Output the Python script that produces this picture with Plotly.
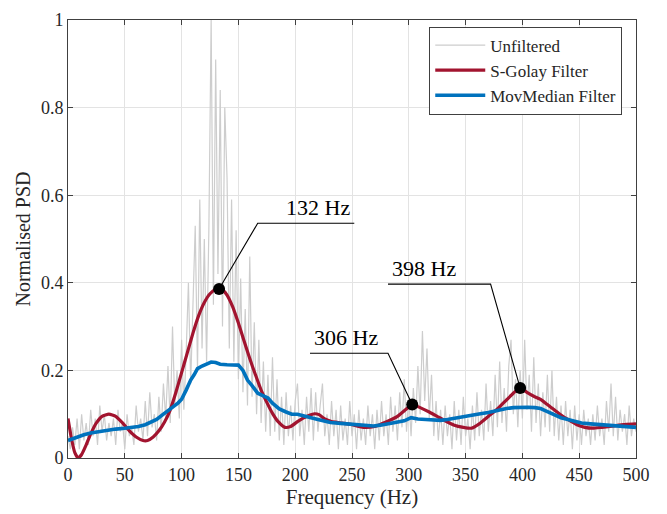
import plotly.graph_objects as go

# ---------------- data ----------------
freq_raw = list(range(0, 501, 2))
psd_raw = [
    0.05, 0.02, 0.07, 0.03, 0.09, 0.02, 0.10, 0.04, 0.08, 0.03,
    0.11, 0.05, 0.09, 0.03, 0.12, 0.06, 0.10, 0.04, 0.08, 0.05,
    0.09, 0.03, 0.11, 0.06, 0.08, 0.02, 0.10, 0.05, 0.07, 0.03,
    0.12, 0.06, 0.09, 0.04, 0.13, 0.05, 0.15, 0.07, 0.10, 0.04,
    0.14, 0.06, 0.17, 0.09, 0.21, 0.08, 0.30, 0.12, 0.20, 0.09,
    0.27, 0.11, 0.24, 0.40, 0.17, 0.35, 0.53, 0.20, 0.59, 0.25,
    0.50, 0.22, 0.52, 1.00, 0.35, 0.91, 0.42, 0.84, 0.30, 0.80,
    0.64, 0.25, 0.59, 0.22, 0.52, 0.18, 0.41, 0.15, 0.34, 0.12,
    0.46, 0.14, 0.31, 0.10, 0.27, 0.08, 0.22, 0.06, 0.19, 0.05,
    0.23, 0.06, 0.18, 0.04, 0.14, 0.03, 0.15, 0.05, 0.12, 0.04,
    0.13, 0.17, 0.05, 0.11, 0.03, 0.14, 0.06, 0.16, 0.04, 0.15,
    0.06, 0.12, 0.17, 0.05, 0.10, 0.03, 0.13, 0.05, 0.11, 0.02,
    0.12, 0.04, 0.09, 0.03, 0.13, 0.05, 0.10, 0.02, 0.11, 0.04,
    0.09, 0.03, 0.12, 0.05, 0.10, 0.02, 0.11, 0.04, 0.13, 0.05,
    0.10, 0.03, 0.14, 0.06, 0.12, 0.04, 0.15, 0.07, 0.18, 0.06,
    0.14, 0.05, 0.16, 0.08, 0.21, 0.10, 0.29, 0.13, 0.25, 0.09,
    0.19, 0.05, 0.13, 0.04, 0.11, 0.03, 0.12, 0.05, 0.10, 0.02,
    0.13, 0.04, 0.11, 0.03, 0.14, 0.05, 0.09, 0.02, 0.12, 0.04,
    0.15, 0.05, 0.11, 0.04, 0.17, 0.06, 0.13, 0.05, 0.19, 0.07,
    0.22, 0.08, 0.16, 0.06, 0.21, 0.27, 0.10, 0.18, 0.07, 0.20,
    0.09, 0.27, 0.11, 0.19, 0.06, 0.23, 0.08, 0.17, 0.05, 0.15,
    0.07, 0.19, 0.06, 0.20, 0.05, 0.14, 0.04, 0.12, 0.03, 0.13,
    0.05, 0.11, 0.02, 0.12, 0.04, 0.10, 0.03, 0.11, 0.05, 0.09,
    0.03, 0.10, 0.04, 0.12, 0.05, 0.09, 0.03, 0.13, 0.06, 0.17,
    0.05, 0.14, 0.04, 0.11, 0.06, 0.10, 0.03, 0.12, 0.05, 0.09,
    0.06,
]

freq_sg = [0, 3, 6, 9, 12, 16, 20, 25, 30, 36, 42, 48, 54, 60, 66, 70, 75, 80, 85, 90,
           95, 100, 105, 110, 115, 120, 125, 130, 133, 136, 140, 145, 150, 155, 160, 165,
           170, 175, 180, 185, 191, 196, 202, 207, 212, 217, 221, 226, 232, 240, 250, 260,
           270, 280, 290, 297, 303, 310, 318, 325, 332, 340, 348, 355, 362, 370, 378, 385,
           392, 398, 404, 410, 416, 422, 428, 434, 440, 448, 455, 462, 470, 477, 485, 492, 500]
psd_sg = [0.090, 0.045, 0.012, 0.000, 0.008, 0.030, 0.055, 0.080, 0.095, 0.100, 0.095,
          0.080, 0.062, 0.048, 0.040, 0.040, 0.048, 0.062, 0.082, 0.110, 0.150, 0.195,
          0.240, 0.285, 0.325, 0.355, 0.375, 0.385, 0.386, 0.384, 0.372, 0.345, 0.308,
          0.267, 0.227, 0.190, 0.155, 0.127, 0.102, 0.083, 0.070, 0.072, 0.083, 0.091,
          0.097, 0.101, 0.099, 0.089, 0.083, 0.080, 0.076, 0.070, 0.072, 0.082, 0.095,
          0.110, 0.122, 0.115, 0.105, 0.095, 0.085, 0.075, 0.070, 0.068, 0.078, 0.095,
          0.112, 0.130, 0.148, 0.160, 0.150, 0.141, 0.134, 0.122, 0.110, 0.098, 0.088,
          0.076, 0.070, 0.068, 0.070, 0.072, 0.075, 0.077, 0.078]

freq_mm = [0, 5, 10, 14, 20, 27, 34, 42, 50, 55, 62, 68, 73, 78, 84, 88, 93, 97, 100, 104,
           108, 111, 114, 118, 122, 126, 130, 134, 140, 145, 150, 154, 158, 162, 167, 172,
           176, 180, 186, 192, 197, 202, 208, 214, 220, 226, 231, 240, 250, 260, 269, 275,
           282, 290, 296, 302, 308, 315, 322, 328, 334, 342, 349, 356, 363, 370, 378, 386,
           392, 398, 405, 411, 416, 421, 427, 434, 440, 446, 452, 460, 468, 476, 484, 492, 500]
psd_mm = [0.040, 0.045, 0.050, 0.053, 0.057, 0.060, 0.064, 0.066, 0.068, 0.069, 0.072,
          0.076, 0.081, 0.088, 0.100, 0.107, 0.118, 0.126, 0.134, 0.155, 0.178, 0.190,
          0.204, 0.210, 0.214, 0.219, 0.218, 0.214, 0.213, 0.213, 0.212, 0.200, 0.178,
          0.165, 0.148, 0.142, 0.137, 0.125, 0.112, 0.105, 0.100, 0.100, 0.095, 0.092,
          0.088, 0.084, 0.081, 0.079, 0.077, 0.074, 0.073, 0.075, 0.078, 0.082, 0.085,
          0.092, 0.089, 0.088, 0.087, 0.086, 0.088, 0.092, 0.096, 0.098, 0.101, 0.104,
          0.109, 0.113, 0.115, 0.116, 0.116, 0.115, 0.113, 0.107, 0.100, 0.092, 0.088,
          0.084, 0.080, 0.078, 0.076, 0.074, 0.072, 0.071, 0.070]

peak_labels = ["132 Hz", "306 Hz", "398 Hz"]
peak_x = [133, 303, 398]
peak_y = [0.386, 0.122, 0.160]
elbow_x = [167, 281.7, 372]
elbow_y = [0.536, 0.239, 0.397]
end_x = [252, 213, 281.7]

x_ticks = [0, 50, 100, 150, 200, 250, 300, 350, 400, 450, 500]
y_ticks = [0, 0.2, 0.4, 0.6, 0.8, 1]
y_tick_text = ["0", "0.2", "0.4", "0.6", "0.8", "1"]

# ---------------- figure ----------------
FONT = "Liberation Serif"
fig = go.Figure()

fig.add_trace(go.Scatter(x=freq_raw, y=psd_raw, mode="lines", name="Unfiltered",
                         line=dict(color="#cdcdcd", width=1.2)))
fig.add_trace(go.Scatter(x=freq_sg, y=psd_sg, mode="lines", name="S-Golay Filter",
                         line=dict(color="#A2142F", width=3.2, shape="spline", smoothing=0.5)))
fig.add_trace(go.Scatter(x=freq_mm, y=psd_mm, mode="lines", name="MovMedian Filter",
                         line=dict(color="#0072BD", width=3.6)))

for i, lab in enumerate(peak_labels):
    fig.add_trace(go.Scatter(x=[peak_x[i], elbow_x[i], end_x[i]],
                             y=[peak_y[i], elbow_y[i], elbow_y[i]],
                             mode="lines", line=dict(color="black", width=1.1),
                             showlegend=False, hoverinfo="skip"))
    anchor = "right" if end_x[i] > elbow_x[i] else "left"
    fig.add_annotation(x=end_x[i], y=elbow_y[i], text=lab, showarrow=False,
                       xanchor=anchor, yanchor="bottom", yshift=1,
                       xshift=-2 if anchor == "right" else 2,
                       font=dict(family=FONT, size=22, color="black"))

fig.add_trace(go.Scatter(x=peak_x, y=peak_y, mode="markers",
                         marker=dict(color="black", size=12),
                         showlegend=False, hoverinfo="skip"))

axis_common = dict(
    showline=True, linecolor="#404040", linewidth=1, mirror="ticks",
    ticks="inside", ticklen=5, tickcolor="#404040",
    showgrid=True, gridcolor="#e3e3e3", gridwidth=1,
    zeroline=False,
    tickfont=dict(family=FONT, size=18, color="#262626"),
)

fig.update_xaxes(range=[0, 500], tickvals=x_ticks,
                 title=dict(text="Frequency (Hz)", standoff=5,
                            font=dict(family=FONT, size=21, color="#262626")),
                 **axis_common)
fig.update_yaxes(range=[0, 1], tickvals=y_ticks, ticktext=y_tick_text,
                 title=dict(text="Normalised PSD", standoff=4,
                            font=dict(family=FONT, size=20, color="#262626")),
                 **axis_common)

fig.update_layout(
    width=667, height=514,
    margin=dict(l=68, r=31, t=10, b=56),
    plot_bgcolor="white", paper_bgcolor="white",
    legend=dict(x=0.636, y=0.985, xanchor="left", yanchor="top",
                bgcolor="white", bordercolor="#404040", borderwidth=1,
                font=dict(family=FONT, size=17, color="#262626"),
                tracegroupgap=0, itemwidth=50),
    showlegend=True,
)

fig.write_html("out.html")
